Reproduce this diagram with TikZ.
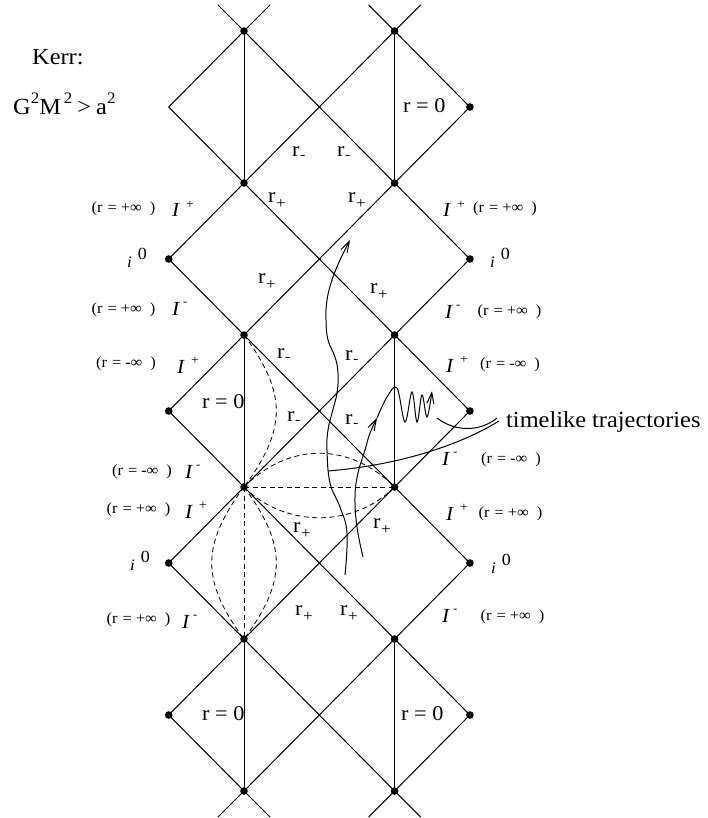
\documentclass[tikz,border=0pt]{standalone}
\usepackage{fontspec}
\setmainfont{Liberation Serif}[FakeStretch=1.06]
\usetikzlibrary{arrows.meta}
\newcommand\supsc[1]{\raisebox{11pt}{\fontsize{16}{16}\selectfont #1}}
\newcommand\rplus{r\kern0.5pt\raisebox{-6pt}{\fontsize{16}{16}\selectfont +}}
\newcommand\rminus{r\kern0.5pt\raisebox{-3pt}{\fontsize{15}{15}\selectfont -}}
\newcommand\scriplus{\textit{I}\kern6pt\raisebox{9pt}{\fontsize{13}{13}\selectfont +}}
\newcommand\scriminus{\textit{I}\kern3pt\raisebox{9.5pt}{\fontsize{12}{12}\selectfont -}}
\newcommand\izero{\textit{i}\kern6pt\raisebox{8pt}{\fontsize{17}{17}\selectfont 0}}
\newcommand\rinfty[1]{(r\hspace{5pt}=\hspace{4pt}#1∞\hspace{8pt})}
\begin{document}
\begin{tikzpicture}[x=1pt,y=-1pt,
  ln/.style={line width=1pt},
  dsh/.style={line width=0.8pt, dash pattern=on 5pt off 3.5pt},
  lab/.style={inner sep=0pt, anchor=base west, font=\fontsize{21}{21}\selectfont},
  scr/.style={inner sep=0pt, anchor=base west, font=\fontsize{20}{20}\selectfont},
  sm/.style={inner sep=0pt, anchor=center, font=\fontsize{15.5}{15.5}\selectfont},
  io/.style={inner sep=0pt, anchor=base west, font=\fontsize{16}{16}\selectfont},
  big/.style={inner sep=0pt, anchor=base west, font=\fontsize{23}{23}\selectfont},
  tip/.style={-{Straight Barb[length=11pt,width=7pt]}}
]
\useasboundingbox (0,0) rectangle (708,818);
% lattice points
\foreach \a/\n in {-1/A,0/B,1/C,2/D,3/E}
  \foreach \b in {0,...,10}
    \coordinate (\n\b) at ({244+75.3*\a},{31+76*\b});
% down-right diagonals
\draw[ln] (B0) -- (E3);
\draw[ln] (D0) -- (E1);
\draw[ln] (A1) -- (E5);
\draw[ln] (A3) -- (E7);
\draw[ln] (A5) -- (E9);
\draw[ln] (A7) -- (D10);
\draw[ln] (A9) -- (B10);
% down-left diagonals
\draw[ln] (B0) -- (A1);
\draw[ln] (D0) -- (A3);
\draw[ln] (E1) -- (A5);
\draw[ln] (E3) -- (A7);
\draw[ln] (E5) -- (A9);
\draw[ln] (E7) -- (B10);
\draw[ln] (E9) -- (D10);
% extensions
\foreach \p in {B0,D0} {\draw[ln] (\p) -- ++(-26,-26); \draw[ln] (\p) -- ++(26,-26);}
\foreach \p in {B10,D10} {\draw[ln] (\p) -- ++(-26,26); \draw[ln] (\p) -- ++(26,26);}
% verticals
\foreach \c in {B,D} {
  \draw[ln] (\c0) -- (\c2);
  \draw[ln] (\c4) -- (\c6);
  \draw[ln] (\c8) -- (\c10);
}
% dots
\foreach \p in {B0,B2,B4,B6,B8,B10,D0,D2,D4,D6,D8,D10,E1,A3,E3,A5,E5,A7,E7,A9,E9}
  \fill (\p) circle[radius=3.8pt];
% dashed curves
\draw[dsh] (B4) .. controls +(43,58) and +(43,-58) .. (B6);
\draw[dsh] (B6) .. controls +(45,-45) and +(-45,-45) .. (D6);
\draw[dsh] (B6) .. controls +(41,41) and +(-41,41) .. (D6);
\draw[dsh] (B6) -- (D6);
\draw[dsh] (B6) -- (B8);
\draw[dsh] (B6) .. controls +(43,58) and +(43,-58) .. (B8);
\draw[dsh] (B6) .. controls +(-43,58) and +(-43,-58) .. (B8);
% trajectories
\draw[ln,tip] plot[smooth,tension=0.7] coordinates {(345,575) (347,533) (340,507) (330,483) (327,450) (328,430) (332,413) (337,393) (338,373) (335,357) (328,340) (326,320) (327,300) (332,280) (340,260) (350,240)};
\draw[ln,tip] plot[smooth,tension=0.7] coordinates {(363,557) (357,527) (355,497) (358,473) (365,450) (370,433) (377,418)};
\draw[ln,tip] plot[smooth,tension=0.6] coordinates {(377,418) (387,397) (397,388) (405,422) (412,392) (417,422) (422,395) (427,417) (432,391)};
% texts
\node[big] (kerr) at (32,65) {Kerr:};
\node[big] (cond) at (13,115) {G\supsc{2}M\kern3pt\supsc{2}\kern5pt>\kern5pt a\supsc{2}};
\node[big] (tl) at (506,427) {timelike trajectories};
\coordinate (t1) at (497,418);
\coordinate (t2) at (499,421);
\coordinate (w1) at (437,418);
\coordinate (w2) at (328,471);
\draw[ln] (w1) .. controls (455,432) and (480,432) .. (t1);
\draw[ln] (w2) .. controls (400,465) and (460,445) .. (t2);
% r labels
\node[lab] (rm1) at (292,157) {\rminus};
\node[lab] (rm2) at (337,157) {\rminus};
\node[lab] (rp1) at (268,203) {\rplus};
\node[lab] (rp2) at (348,203) {\rplus};
\node[lab] (rp3) at (258,283) {\rplus};
\node[lab] (rp4) at (370,293) {\rplus};
\node[lab] (rm3) at (277,358) {\rminus};
\node[lab] (rm4) at (345,360) {\rminus};
\node[lab] (rm5) at (287,421) {\rminus};
\node[lab] (rm6) at (345,424) {\rminus};
\node[lab] (rp5) at (293,532) {\rplus};
\node[lab] (rp6) at (373,528) {\rplus};
\node[lab] (rp7) at (295,615) {\rplus};
\node[lab] (rp8) at (340,615) {\rplus};
\node[lab] (z1) at (403,113) {r = 0};
\node[lab] (z2) at (202,408) {r = 0};
\node[lab] (z3) at (202,720) {r = 0};
\node[lab] (z4) at (401,720) {r = 0};
% scri labels
\node[scr] (sl1) at (172,217) {\scriplus};
\node[scr] (sl2) at (172,315) {\scriminus};
\node[scr] (sl3) at (177,373) {\scriplus};
\node[scr] (sl4) at (185,478) {\scriminus};
\node[scr] (sl5) at (185,518) {\scriplus};
\node[scr] (sl6) at (182,628) {\scriminus};
\node[scr] (sr1) at (443,217) {\scriplus};
\node[scr] (sr2) at (445,318) {\scriminus};
\node[scr] (sr3) at (446,372) {\scriplus};
\node[scr] (sr4) at (442,465) {\scriminus};
\node[scr] (sr5) at (446,520) {\scriplus};
\node[scr] (sr6) at (442,622) {\scriminus};
% infinity labels
\node[sm] (il1) at (123.5,208.5) {\rinfty{+}};
\node[sm] (il2) at (123.5,310) {\rinfty{+}};
\node[sm] (il3) at (126,363.5) {\rinfty{-}};
\node[sm] (il4) at (142,471.5) {\rinfty{-}};
\node[sm] (il5) at (138.5,510) {\rinfty{+}};
\node[sm] (il6) at (138.5,620) {\rinfty{+}};
\node[sm] (ir1) at (505,208.5) {\rinfty{+}};
\node[sm] (ir2) at (509.5,311.5) {\rinfty{+}};
\node[sm] (ir3) at (510,365) {\rinfty{-}};
\node[sm] (ir4) at (511,460) {\rinfty{-}};
\node[sm] (ir5) at (510.5,513.5) {\rinfty{+}};
\node[sm] (ir6) at (512.5,616.5) {\rinfty{+}};
% i0 labels
\node[io] (i1) at (127,267) {\izero};
\node[io] (i2) at (490,267) {\izero};
\node[io] (i3) at (130,570) {\izero};
\node[io] (i4) at (491,573) {\izero};
\end{tikzpicture}
\end{document}
